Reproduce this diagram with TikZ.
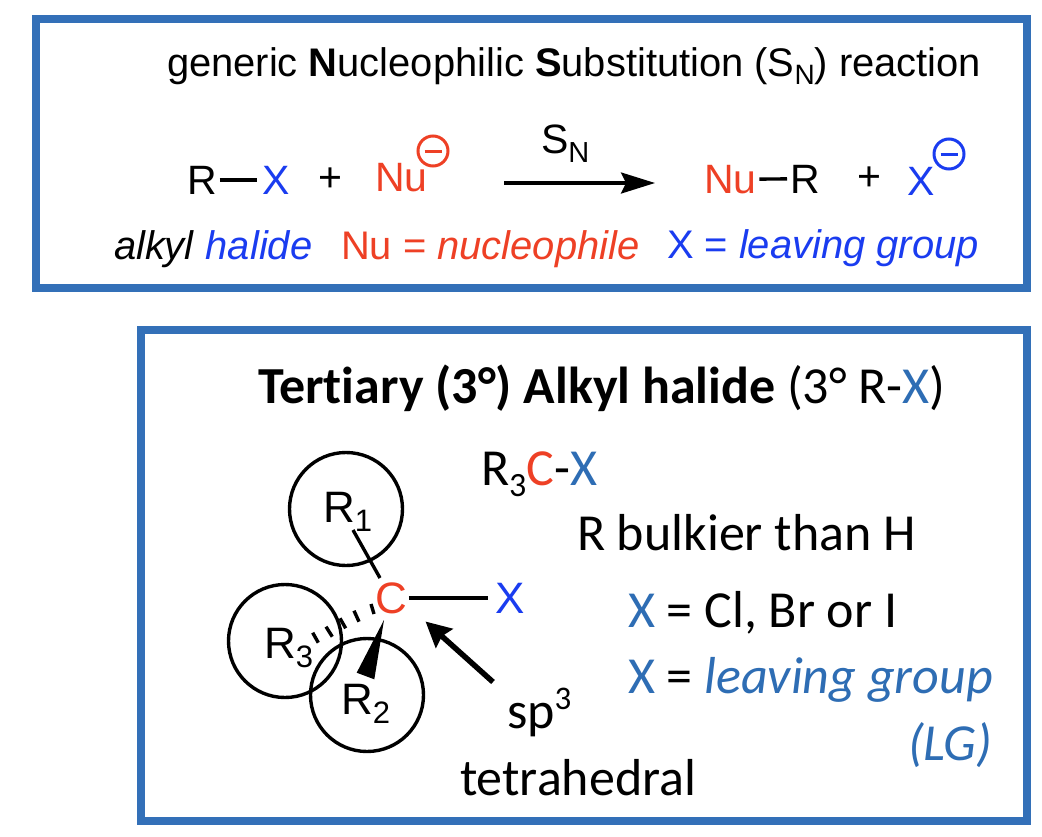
\documentclass[tikz,border=0pt]{standalone}
\usepackage{fontspec}
\setmainfont{Liberation Sans}
\newfontfamily\calfont[Ligatures=NoCommon]{Carlito}
\usetikzlibrary{arrows.meta}
\definecolor{boxblue}{HTML}{3370B8}
\definecolor{xblue}{HTML}{1A3CF0}
\definecolor{nured}{HTML}{EE4025}
\definecolor{calblue}{HTML}{2E6DB4}
\newcommand{\hv}[1]{\fontsize{#1}{#1}\selectfont}
\newcommand{\cb}[1]{\fontsize{#1}{#1}\selectfont\calfont}
\newcommand{\subsc}[2]{\raisebox{-0.22em}{\fontsize{#1}{#1}\selectfont #2}}
\tikzset{
  x=1pt,y=-1pt,
  panel/.style={draw=boxblue,line width=8pt,fill=white,outer sep=0pt,inner sep=0pt,anchor=north west},
  txt/.style={anchor=base west,inner sep=0pt,outer sep=0pt},
  chem/.style={txt,font=\hv{41}},
  mol/.style={txt,font=\hv{44}},
  lbl/.style={txt,font=\hv{39.9}},
  calib/.style={txt,font=\cb{52}},
  bond/.style={line width=3.4pt,black},
  ring/.style={draw,line width=3.4pt,circle,minimum size=113pt,inner sep=0pt},
  charge/.style={draw=#1,line width=3pt,circle,minimum size=30pt,inner sep=0pt},
  hash/.style={line width=3.4pt,black},
}
\begin{document}
\begin{tikzpicture}
\useasboundingbox (0,0) rectangle (1042,836);
\fill[white] (0,0) rectangle (1042,836);
\node[panel,minimum width=991pt,minimum height=269pt] (top) at (36,19) {};
\node[panel,minimum width=886pt,minimum height=491pt] (bot) at (141,330) {};

% top panel
\node[lbl] (head) at (167,76) {generic \textbf{N}ucleophilic \textbf{S}ubstitution (S\subsc{28}{N}) reaction};
\node[chem] (r1) at (187,194) {R};
\node[chem,text=xblue] (x1) at (262,194) {X};
\draw[bond] ([xshift=3pt]r1.east) -- ([xshift=-5pt]x1.west);
\node[chem] (p1) at (318,191) {+};
\node[chem,text=nured] (nu1) at (375,191) {Nu};
\node[charge=nured] (c1) at (433,151) {};
\draw[line width=3pt,nured] ([xshift=-8.5pt]c1.center) -- ([xshift=8.5pt]c1.center);
\node[chem] (sn) at (541,153) {S\subsc{29}{N}};
\coordinate (a1) at (504,183);
\coordinate (a2) at (655,183);
\draw[line width=3.2pt,-{Stealth[length=34pt,width=21pt,inset=5pt]}] (a1) -- (a2);
\node[chem,text=nured] (nu2) at (704,193) {Nu};
\node[chem] (r2) at (790,193) {R};
\draw[bond] ([xshift=3pt]nu2.east) -- ([xshift=-3pt]r2.west);
\node[chem] (p2) at (857,190) {+};
\node[chem,text=xblue] (x2) at (907,195) {X};
\node[charge=xblue] (c2) at (949,154) {};
\draw[line width=3pt,xblue] ([xshift=-8.5pt]c2.center) -- ([xshift=8.5pt]c2.center);
\node[lbl] (alk) at (114,259) {\textit{alkyl} \textcolor{xblue}{\textit{halide}}};
\node[lbl,text=nured] (nul) at (341,259) {Nu = \textit{nucleophile}};
\node[lbl,text=xblue] (lg) at (667,258) {X = \textit{leaving group}};

% bottom panel
\node[calib] (title) at (258,403.5) {\textbf{Tertiary (3°) Alkyl halide} (3° R-\textcolor{calblue}{X})};
\node[calib] (form) at (481,485) {R\subsc{34}{3}\textcolor{nured}{C}-\textcolor{calblue}{X}};
\node[calib] (bulk) at (577,550) {R bulkier than H};
\node[calib] (cl) at (628,627.5) {\textcolor{calblue}{X} = Cl, Br or I};
\node[calib] (lv) at (628,693.5) {\textcolor{calblue}{X} = \textcolor{calblue}{\textit{leaving group}}};
\node[calib,text=calblue] (lgs) at (908,760) {\textit{(LG)}};
\node[calib] (sp) at (507,728) {sp\raisebox{0.36em}{\fontsize{33}{33}\selectfont 3}};
\node[calib] (tet) at (460,795) {tetrahedral};

% molecule
\node[ring] (o1) at (346,509) {};
\node[ring] (o3) at (285,641) {};
\node[ring] (o2) at (367,695) {};
\node[mol] (rr1) at (323,522) {R\subsc{31}{1}};
\node[mol] (rr3) at (264,658) {R\subsc{31}{3}};
\node[mol] (rr2) at (341,714) {R\subsc{31}{2}};
\node[mol,text=nured] (cc) at (375,613) {C};
\node[mol,text=xblue] (xx) at (495,613) {X};
\draw[bond] ([xshift=2pt]cc.east) -- ([xshift=-7pt]cc.east -| xx.west);
\coordinate (b1a) at (353,530);
\coordinate (b1b) at (380,578);
\draw[bond] (b1a) -- (b1b);
\coordinate (wt) at (384,620);
\coordinate (wa) at (356.7,672.7);
\coordinate (wb) at (374.3,679.3);
\fill[black] (wt) -- (wa) -- (wb) -- cycle;
\foreach \ax/\ay/\bx/\by in {371/604/374/614,354/610.7/359/621.7,340/618.3/345.7/628.3,326/626.7/332.3/636.7,312.7/632.7/318.3/642.7}
  \draw[hash] (\ax,\ay) -- (\bx,\by);
\coordinate (sa) at (493,682);
\coordinate (sb) at (425.5,621.5);
\draw[line width=5.5pt,-{Triangle[length=25pt,width=25pt,inset=3pt]}] (sa) -- (sb);
\end{tikzpicture}
\end{document}
